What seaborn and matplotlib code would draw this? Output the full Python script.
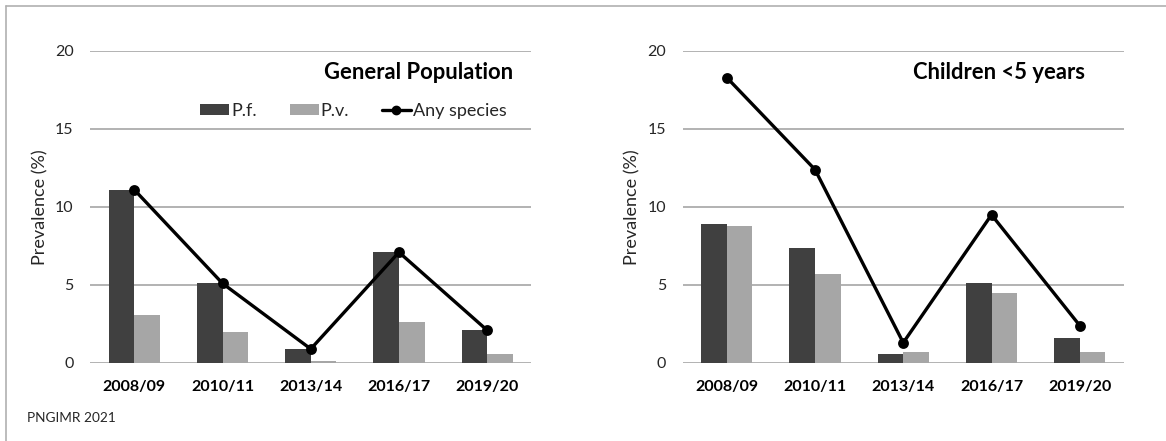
import matplotlib
matplotlib.use("Agg")
import matplotlib.pyplot as plt
import seaborn as sns
import pandas as pd
from matplotlib.lines import Line2D
from matplotlib.patches import Patch

years = ["2008/09", "2010/11", "2013/14", "2016/17", "2019/20"]

gen_pf = [11.1, 5.1, 0.9, 7.1, 2.1]
gen_pv = [3.1, 2.0, 0.1, 2.6, 0.6]
gen_any = [11.1, 5.1, 0.9, 7.1, 2.1]

chi_pf = [8.9, 7.4, 0.6, 5.1, 1.6]
chi_pv = [8.8, 5.7, 0.7, 4.5, 0.7]
chi_any = [18.3, 12.4, 1.3, 9.5, 2.4]

species = ["P.f.", "P.v."]
line_label = "Any species"
titles = ["General Population", "Children <5 years"]
yticks = [0, 5, 10, 15, 20]
source = "PNGIMR 2021"

PF_COLOR = "#404040"
PV_COLOR = "#a6a6a6"
GRID = "#a6a6a6"

sns.set_theme(style="white")
plt.rcParams["font.family"] = ["Lato", "DejaVu Sans"]

fig = plt.figure(figsize=(11.66, 4.41), dpi=100)
W, H = 1166, 441


def axes_rect(x0, x1, ytop, ybot):
    return [x0 / W, 1 - ybot / H, (x1 - x0) / W, (ybot - ytop) / H]


ax1 = fig.add_axes(axes_rect(90.3, 531.2, 51, 363))
ax2 = fig.add_axes(axes_rect(682.6, 1123.9, 51, 363))

panels = [
    (ax1, gen_pf, gen_pv, gen_any, titles[0], 0.9587),
    (ax2, chi_pf, chi_pv, chi_any, titles[1], 0.912),
]

for ax, pf, pv, anyv, title, tx in panels:
    bars = pd.DataFrame({
        "year": years * 2,
        "species": [species[0]] * len(years) + [species[1]] * len(years),
        "value": list(pf) + list(pv),
    })
    sns.barplot(data=bars, x="year", y="value", hue="species", order=years,
                hue_order=species, palette=[PF_COLOR, PV_COLOR], width=0.58,
                gap=0, saturation=1, linewidth=0, errorbar=None, legend=False,
                ax=ax, zorder=2)
    line = pd.DataFrame({"year": years, "value": anyv})
    sns.pointplot(data=line, x="year", y="value", order=years, color="black",
                  markers="o", markersize=6, linewidth=2.4, errorbar=None,
                  ax=ax, zorder=3)
    ax.set_ylim(0, 20)
    ax.set_xlim(-0.5, len(years) - 0.5)
    ax.set_yticks(yticks)
    ax.set_yticklabels([str(t) for t in yticks])
    ax.yaxis.grid(True, color=GRID, linewidth=1.2)
    ax.set_axisbelow(True)
    for s in ax.spines.values():
        s.set_visible(False)
    ax.tick_params(axis="both", length=0)
    ax.tick_params(axis="y", pad=12, labelsize=11.5, labelcolor="#262626")
    ax.tick_params(axis="x", pad=12, labelsize=11.5, labelcolor="#000000")
    for lab in ax.get_xticklabels():
        lab.set_fontweight("bold")
    ax.set_xlabel("")
    ax.set_ylabel("Prevalence (%)", fontsize=13, color="#262626")
    ax.yaxis.set_label_coords(-0.095, 0.5)
    ax.text(tx, 0.93, title, transform=ax.transAxes, ha="right", va="center",
            fontsize=15.8, fontweight="bold", color="black")

handles = [
    Patch(facecolor=PF_COLOR, edgecolor="none"),
    Patch(facecolor=PV_COLOR, edgecolor="none"),
    Line2D([], [], color="black", linewidth=2.4, marker="o", markersize=6),
]
leg = ax1.legend(handles, species + [line_label], ncol=3, frameon=False,
                 loc="center", bbox_to_anchor=(0.597, 0.808),
                 borderaxespad=0, fontsize=13, handlelength=1.6,
                 handleheight=0.6, handletextpad=0.12, columnspacing=1.8)
for t in leg.get_texts():
    t.set_color("#262626")

# outer frame (left and top edges)
fig.add_artist(Line2D([5.6 / W, 5.6 / W], [0, 1 - 6 / H], color="#b0b0b0",
                      linewidth=1.2, transform=fig.transFigure))
fig.add_artist(Line2D([5.6 / W, 1], [1 - 6 / H, 1 - 6 / H], color="#b0b0b0",
                      linewidth=1.2, transform=fig.transFigure))

fig.text(26.8 / W, 1 - 418 / H, source, ha="left", va="center",
         fontsize=9.8, color="#262626")

fig.savefig("out.png", dpi=100)
